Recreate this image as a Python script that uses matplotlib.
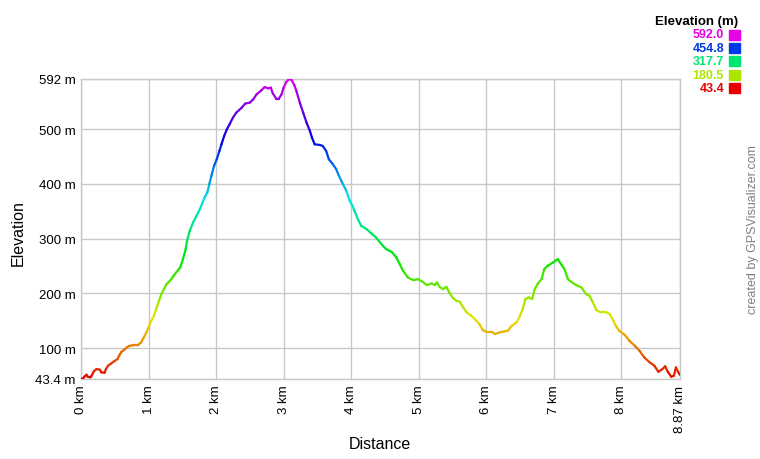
import numpy as np
import matplotlib
matplotlib.use("Agg")
import matplotlib.pyplot as plt
from matplotlib.collections import LineCollection
from matplotlib.colors import hsv_to_rgb
from matplotlib.patches import Rectangle

plt.rcParams['font.family'] = ['Liberation Sans', 'DejaVu Sans']

# track profile
dist_km = [0.00, 0.03, 0.05, 0.08, 0.10, 0.14, 0.16, 0.19, 0.23, 0.28, 0.30, 0.35, 0.37, 0.40,
           0.45, 0.49, 0.54, 0.57, 0.60, 0.64, 0.68, 0.72, 0.77, 0.84, 0.89, 0.93, 0.97, 1.01,
           1.04, 1.08, 1.11, 1.13, 1.16, 1.19, 1.23, 1.26, 1.30, 1.34, 1.37, 1.44, 1.47, 1.51,
           1.55, 1.57, 1.61, 1.66, 1.71, 1.76, 1.80, 1.83, 1.87, 1.90, 1.93, 1.97, 2.01, 2.05,
           2.08, 2.12, 2.16, 2.20, 2.25, 2.30, 2.38, 2.43, 2.50, 2.55, 2.60, 2.67, 2.72, 2.77,
           2.81, 2.84, 2.89, 2.93, 2.97, 3.00, 3.04, 3.08, 3.12, 3.16, 3.19, 3.24, 3.29, 3.34,
           3.39, 3.42, 3.46, 3.54, 3.58, 3.63, 3.67, 3.73, 3.78, 3.82, 3.88, 3.93, 3.98, 4.02,
           4.05, 4.10, 4.15, 4.23, 4.30, 4.37, 4.41, 4.47, 4.52, 4.60, 4.67, 4.72, 4.77, 4.84,
           4.92, 4.99, 5.06, 5.12, 5.19, 5.24, 5.27, 5.31, 5.36, 5.41, 5.46, 5.51, 5.56, 5.61,
           5.66, 5.71, 5.78, 5.84, 5.90, 5.95, 6.00, 6.08, 6.13, 6.20, 6.27, 6.32, 6.37, 6.45,
           6.49, 6.54, 6.58, 6.63, 6.68, 6.72, 6.76, 6.82, 6.86, 6.91, 6.99, 7.06, 7.11, 7.16,
           7.21, 7.26, 7.33, 7.41, 7.48, 7.53, 7.58, 7.63, 7.70, 7.78, 7.83, 7.87, 7.92, 7.97,
           8.05, 8.12, 8.20, 8.27, 8.34, 8.42, 8.49, 8.55, 8.61, 8.65, 8.69, 8.74, 8.78, 8.81,
           8.84, 8.87]
elev_m = [44.5, 43.4, 47.6, 51.2, 47.6, 46.5, 50.1, 57.4, 61.6, 60.4, 55.6, 54.9, 61.6, 67.7,
          72.1, 75.7, 79.9, 87.2, 93.2, 96.9, 101.3, 104.2, 104.9, 104.9, 110.4, 119.5, 128.7, 140.7,
          149.9, 159.0, 170.0, 177.3, 188.2, 198.6, 207.8, 215.6, 221.1, 226.0, 232.1, 243.0, 247.4, 262.6,
          280.8, 296.0, 314.2, 329.6, 341.6, 353.9, 366.1, 375.3, 384.4, 399.5, 414.7, 433.0, 445.2, 460.4,
          472.6, 487.8, 500.0, 509.1, 521.4, 530.5, 539.6, 546.9, 548.8, 554.8, 563.9, 571.2, 577.3, 574.9,
          576.2, 565.8, 556.1, 556.1, 563.9, 576.2, 586.4, 592.0, 590.0, 580.4, 570.0, 548.8, 530.5, 512.2,
          496.9, 484.8, 472.6, 471.3, 469.5, 460.4, 445.2, 436.1, 426.9, 414.7, 399.5, 387.3, 369.0, 359.9,
          350.8, 335.6, 323.4, 317.4, 309.5, 302.2, 296.0, 286.9, 280.8, 275.9, 265.7, 253.4, 241.2, 229.1,
          224.2, 226.0, 221.1, 215.1, 218.2, 215.1, 220.0, 212.0, 207.8, 212.0, 199.9, 191.3, 186.4, 184.6,
          174.3, 165.2, 159.0, 151.7, 143.8, 132.9, 129.8, 129.8, 125.6, 128.7, 130.5, 131.6, 139.6, 146.9,
          156.1, 171.2, 189.5, 192.6, 189.5, 207.8, 216.9, 226.0, 244.3, 250.3, 256.5, 262.6, 253.4, 244.3,
          226.0, 221.1, 215.1, 210.9, 198.6, 195.5, 183.5, 169.4, 165.2, 165.2, 162.1, 153.0, 140.7, 131.6,
          124.3, 113.3, 104.2, 95.1, 83.0, 73.9, 67.7, 56.7, 61.6, 66.6, 56.7, 47.6, 49.4, 64.7,
          56.7, 50.7]

y_ticks = [43.4, 100, 200, 300, 400, 500, 592]
y_labels = ["43.4 m", "100 m", "200 m", "300 m", "400 m", "500 m", "592 m"]
x_ticks = [0, 1, 2, 3, 4, 5, 6, 7, 8, 8.87]
x_labels = ["0 km", "1 km", "2 km", "3 km", "4 km", "5 km", "6 km", "7 km", "8 km", "8.87 km"]
legend_vals = [592.0, 454.8, 317.7, 180.5, 43.4]

e_min, e_max = 43.4, 592.0


def elev_color(e):
    frac = np.clip((e - e_min) / (e_max - e_min), 0, 1)
    return hsv_to_rgb((frac * 300.0 / 360.0, 1.0, 0.9))


W, H = 760, 460
fig = plt.figure(figsize=(W / 100, H / 100), dpi=100)
ax = fig.add_axes([81 / W, 1 - 380 / H, (680 - 81) / W, 300 / H])

x = np.array(dist_km)
y = np.array(elev_m)
pts = np.column_stack([x, y]).reshape(-1, 1, 2)
segs = np.concatenate([pts[:-1], pts[1:]], axis=1)
cols = [elev_color((a + b) / 2) for a, b in zip(y[:-1], y[1:])]
lc = LineCollection(segs, colors=cols, linewidths=1.6, capstyle='round', joinstyle='round', zorder=3)
ax.add_collection(lc)

ax.set_xlim(0, 8.87)
ax.set_ylim(e_min, e_max)
ax.set_yticks(y_ticks)
ax.set_yticklabels(y_labels, fontsize=9.5)
ax.set_xticks(x_ticks)
ax.set_xticklabels(x_labels, rotation=90, fontsize=9.5)
ax.tick_params(length=0, pad=4, colors='#000000')
ax.grid(True, color='#c8c8c8', linewidth=1)
for s in ax.spines.values():
    s.set_color('#c8c8c8')
    s.set_linewidth(1)

fig.text(18 / W, 1 - 233 / H, "Elevation", rotation=90, fontsize=11.5, ha='center', va='center')
fig.text(380 / W, 1 - 445 / H, "Distance", fontsize=11.5, ha='center', va='center')

# legend
fig.text(738 / W, 1 - 22 / H, "Elevation (m)", fontsize=9.5, fontweight='bold', ha='right', va='center')
for i, v in enumerate(legend_vals):
    yc = 35.5 + i * 13.4
    c = elev_color(v)
    fig.text(724 / W, 1 - yc / H, f"{v:.1f}", fontsize=9, fontweight='bold', color=c,
             ha='right', va='center')
    fig.patches.append(Rectangle((729 / W, 1 - (yc + 5) / H), 11 / W, 10 / H,
                                 transform=fig.transFigure, color=c))

fig.text(753 / W, 1 - 230 / H, "created by GPSVisualizer.com", rotation=90, fontsize=9,
         color='#808080', ha='center', va='center')

fig.savefig("out.png", dpi=100)
